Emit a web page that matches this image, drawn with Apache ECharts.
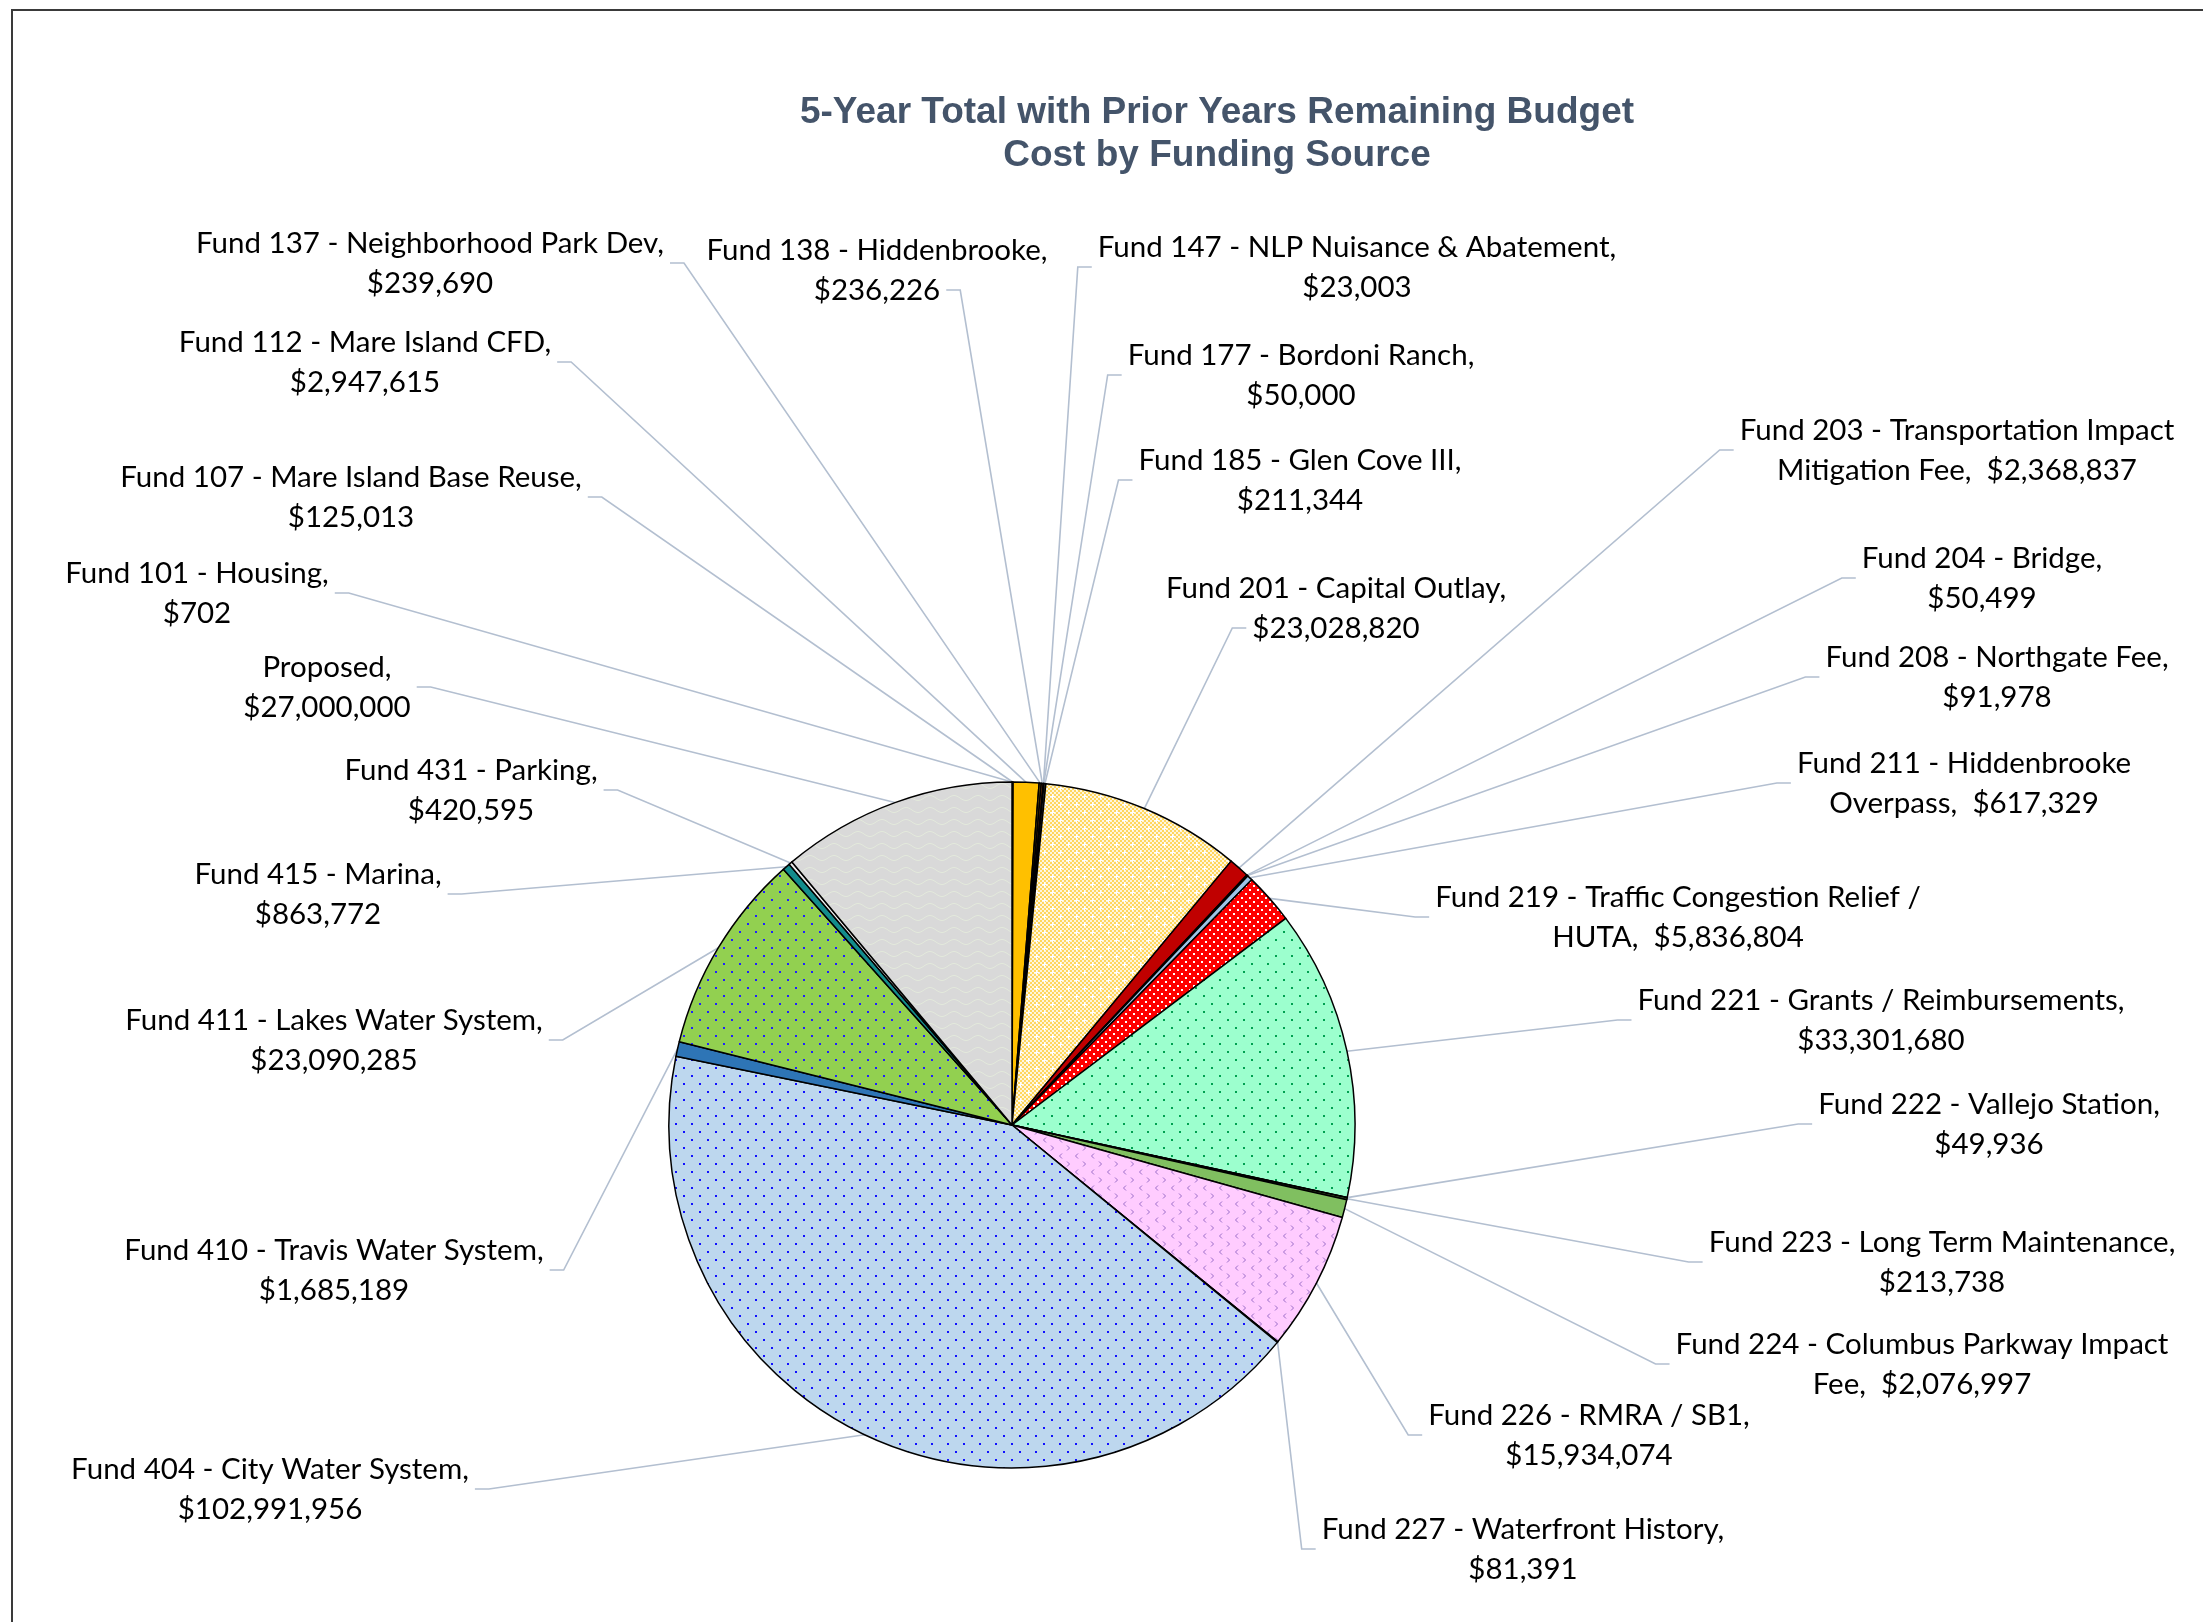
<!DOCTYPE html>
<html>
<head>
<meta charset="utf-8">
<script src="https://cdn.jsdelivr.net/npm/echarts@6/dist/echarts.min.js"></script>
<style>
html,body{margin:0;padding:0;background:#fff;}
#chart{width:2203px;height:1622px;}
</style>
</head>
<body>
<div id="chart"></div>
<script>
// ---------- DATA ----------
const CATEGORIES = [
  'Fund 101 - Housing',
  'Fund 107 - Mare Island Base Reuse',
  'Fund 112 - Mare Island CFD',
  'Fund 137 - Neighborhood Park Dev',
  'Fund 138 - Hiddenbrooke',
  'Fund 147 - NLP Nuisance & Abatement',
  'Fund 177 - Bordoni Ranch',
  'Fund 185 - Glen Cove III',
  'Fund 201 - Capital Outlay',
  'Fund 203 - Transportation Impact\nMitigation Fee',
  'Fund 204 - Bridge',
  'Fund 208 - Northgate Fee',
  'Fund 211 - Hiddenbrooke\nOverpass',
  'Fund 219 - Traffic Congestion Relief /\nHUTA',
  'Fund 221 - Grants / Reimbursements',
  'Fund 222 - Vallejo Station',
  'Fund 223 - Long Term Maintenance',
  'Fund 224 - Columbus Parkway Impact\nFee',
  'Fund 226 - RMRA / SB1',
  'Fund 227 - Waterfront History',
  'Fund 404 - City Water System',
  'Fund 410 - Travis Water System',
  'Fund 411 - Lakes Water System',
  'Fund 415 - Marina',
  'Fund 431 - Parking',
  'Proposed'
];
const VALUES = [
  702, 125013, 2947615, 239690, 236226, 23003, 50000, 211344,
  23028820, 2368837, 50499, 91978, 617329, 5836804, 33301680,
  49936, 213738, 2076997, 15934074, 81391, 102991956, 1685189,
  23090285, 863772, 420595, 27000000
];
const TITLE_LINES = ['5-Year Total with Prior Years Remaining Budget', 'Cost by Funding Source'];

// ---------- LABEL PLACEMENT (pixels, label block centres) ----------
const LABEL_X = [197, 351, 365, 430, 877, 1357, 1301, 1300, 1336, 1957, 1982, 1997, 1964,
                 1678, 1881, 1989, 1942, 1922, 1589, 1523, 270, 334, 334, 318, 471, 327];
const LABEL_Y = [593, 497, 362, 263, 270, 267, 375, 480, 608, 450, 578, 677, 783,
                 917, 1020, 1124, 1262, 1364, 1435, 1549, 1489, 1270, 1040, 894, 790, 687];

// ---------- STYLES ----------
const LABEL_FONT_SIZE = 29.5;
const LABEL_FONT_FAMILY = 'Lato';
const LINE_H = 40;
const GAP = 6, STUB = 14, STEEP_MARGIN = 40;

function tile(w, h, draw) {
  const c = document.createElement('canvas');
  c.width = w; c.height = h;
  draw(c.getContext('2d'));
  return { image: c, repeat: 'repeat' };
}
function dots(bg, dot) {
  return tile(16, 16, ctx => {
    ctx.fillStyle = bg; ctx.fillRect(0, 0, 16, 16);
    ctx.fillStyle = dot;
    ctx.fillRect(3, 3, 2, 2); ctx.fillRect(11, 11, 2, 2);
  });
}
const P_YELLOW = tile(16, 16, ctx => {
  for (let y = 0; y < 16; y += 2) for (let x = 0; x < 16; x += 2) {
    ctx.fillStyle = ((x + y) / 2) % 2 === 0 ? '#FFD65E' : '#FFF6DC';
    ctx.fillRect(x, y, 2, 2);
  }
  ctx.fillStyle = '#FFFFFF';
  ctx.fillRect(2, 4, 5, 1); ctx.fillRect(4, 2, 1, 5);
  ctx.fillRect(10, 12, 5, 1); ctx.fillRect(12, 10, 1, 5);
});
const P_RED = tile(8, 8, ctx => {
  ctx.fillStyle = '#FF0000'; ctx.fillRect(0, 0, 8, 8);
  ctx.fillStyle = '#FFFFFF';
  ctx.fillRect(1, 1, 2, 2); ctx.fillRect(5, 5, 2, 2);
});
const P_MINT = dots('#9CFFCE', '#00A050');
const P_BLUE = dots('#BDD7EE', '#1010FF');
const P_GREEN = dots('#92D050', '#2020FF');
const P_PINK = tile(16, 16, ctx => {
  ctx.fillStyle = '#FFCCFF'; ctx.fillRect(0, 0, 16, 16);
  ctx.strokeStyle = '#9A6CC8'; ctx.lineWidth = 1;
  ctx.beginPath();
  ctx.moveTo(6, 1.5); ctx.lineTo(3.5, 4); ctx.lineTo(6, 6.5);
  ctx.moveTo(11, 9.5); ctx.lineTo(13.5, 12); ctx.lineTo(11, 14.5);
  ctx.stroke();
});
const P_GREY = tile(24, 12, ctx => {
  ctx.fillStyle = '#D9D9D9'; ctx.fillRect(0, 0, 24, 12);
  ctx.strokeStyle = '#E3E9DC'; ctx.lineWidth = 1;
  ctx.beginPath();
  for (let x = 0; x <= 24; x++) {
    const y = 6 + 2.5 * Math.sin(2 * Math.PI * x / 24);
    if (x === 0) ctx.moveTo(x, y); else ctx.lineTo(x, y);
  }
  ctx.stroke();
});
const SLICE_COLORS = [
  '#4472C4', '#264478', '#FFC000', '#7F6000', '#843C0C', '#806000', '#A5A5A5', '#636363',
  P_YELLOW, '#C00000', '#5B9BD5', '#BDD7EE', '#9DC3E6', P_RED, P_MINT,
  '#7030A0', '#548235', '#80BF60', P_PINK, '#A9D18E', P_BLUE, '#2E75B6',
  P_GREEN, '#138C8C', '#EDEDED', P_GREY
];

// ---------- HELPERS ----------
const measureCtx = document.createElement('canvas').getContext('2d');
measureCtx.font = LABEL_FONT_SIZE + 'px ' + LABEL_FONT_FAMILY;
function textW(s) { return measureCtx.measureText(s).width; }
function money(v) { return '$' + v.toLocaleString('en-US'); }

const chart = echarts.init(document.getElementById('chart'), null, { renderer: 'canvas' });

const option = {
  animation: false,
  backgroundColor: '#ffffff',
  title: {
    text: TITLE_LINES.join('\n'),
    left: 1217,
    top: 91,
    padding: 0,
    textAlign: 'center',
    textStyle: {
      fontFamily: 'Liberation Sans',
      fontWeight: 'bold',
      fontSize: 37,
      lineHeight: 43,
      color: '#44546A'
    }
  },
  graphic: [{
    type: 'rect',
    silent: true,
    shape: { x: 12, y: 10, width: 2400, height: 1800 },
    style: { fill: 'none', stroke: '#3A3A3A', lineWidth: 2 },
    z: -1
  }],
  series: [{
    type: 'pie',
    center: [1012, 1125],
    radius: 343,
    startAngle: 90,
    clockwise: true,
    avoidLabelOverlap: false,
    minShowLabelAngle: 0,
    emphasis: { disabled: true },
    data: CATEGORIES.map((name, i) => ({
      name: name,
      value: VALUES[i],
      itemStyle: { color: SLICE_COLORS[i] }
    })),
    itemStyle: { borderColor: '#000000', borderWidth: 1.5 },
    label: {
      show: true,
      position: 'outside',
      fontFamily: LABEL_FONT_FAMILY,
      fontSize: LABEL_FONT_SIZE,
      lineHeight: LINE_H,
      color: '#000000',
      align: 'center',
      formatter: p => p.name.indexOf('\n') >= 0
        ? p.name + ',  ' + money(p.value)
        : p.name + ',\n' + money(p.value)
    },
    labelLine: {
      show: true,
      length: 10,
      length2: 10,
      smooth: false,
      lineStyle: { color: '#B3BFD0', width: 1.6 }
    },
    labelLayout: function (p) {
      const i = p.dataIndex;
      const cx = LABEL_X[i], cy = LABEL_Y[i];
      const lines = String(p.text).split('\n');
      const widths = lines.map(textW);
      const n = lines.length;
      const top = cy - n * LINE_H / 2;
      const bottom = cy + n * LINE_H / 2;
      const maxW = Math.max.apply(null, widths);
      const left = cx - maxW / 2, right = cx + maxW / 2;
      const res = { x: cx, y: cy, align: 'center', verticalAlign: 'middle' };
      const pts = p.labelLinePoints;
      if (pts && pts.length) {
        const a = pts[0];
        const vertOutside = a[1] > bottom || a[1] < top;
        const steep = vertOutside && a[0] > left - STEEP_MARGIN && a[0] < right + STEEP_MARGIN;
        let ax, ay, dir;
        if (steep) {
          const li = a[1] > cy ? n - 1 : 0;
          const w = widths[li];
          ay = top + LINE_H * (li + 0.5);
          if (a[0] >= cx) { ax = cx + w / 2 + GAP; dir = 1; }
          else { ax = cx - w / 2 - GAP; dir = -1; }
        } else if (a[0] < cx) { ax = left - GAP; ay = cy; dir = -1; }
        else { ax = right + GAP; ay = cy; dir = 1; }
        res.labelLinePoints = [[a[0], a[1]], [ax + dir * STUB, ay], [ax, ay]];
      }
      return res;
    }
  }]
};
chart.setOption(option);
</script>
</body>
</html>
